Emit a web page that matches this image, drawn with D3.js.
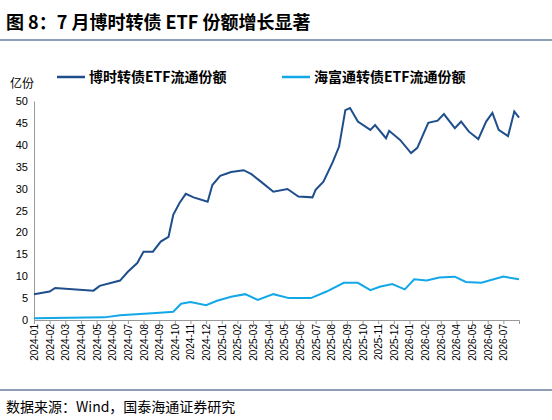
<!DOCTYPE html>
<html><head><meta charset="utf-8">
<script src="https://cdn.jsdelivr.net/npm/d3@7"></script>
<style>
body{margin:0;background:#fff;font-family:"Noto Sans CJK SC","Liberation Serif",serif;}
</style></head><body>
<svg id="chart" width="552" height="420"></svg>
<script>
// tick labels (months)
const months = [];
for (let y = 2024; y <= 2026; y++) for (let m = 1; m <= 12; m++) {
  if (y === 2026 && m > 7) break;
  months.push(y + "-" + String(m).padStart(2, "0"));
}
// month position (0 = 2024-01) and values, 博时
const boshiT = [0,1,1.35,3.8,4.2,5.5,6,6.6,7,7.6,8.1,8.6,8.9,9.3,9.7,10.2,11.1,11.4,11.9,12.6,13.4,13.9,14.5,15.3,16.2,16.9,17.8,18,18.5,19.1,19.5,19.9,20.2,20.7,21.5,21.8,22.5,22.7,23.4,24.1,24.5,25.2,25.8,26.2,26.9,27.3,27.8,28.4,28.9,29.3,29.7,30.3,30.7,31];
const boshiV = [5.9,6.5,7.3,6.7,7.8,9.0,11,13,15.6,15.6,17.9,19,24,26.7,28.8,28,27,30.8,32.9,33.8,34.2,33.3,31.6,29.3,29.9,28.2,28,29.7,31.6,36.1,39.6,47.9,48.4,45.3,43.4,44.5,41.5,43.2,41.1,38.1,39.3,45,45.5,47,43.8,45.3,43,41.3,45.3,47.3,43.4,42,47.6,46.2];
// 海富通
const hftT = [0,4.5,5.5,7.8,8.9,9.4,10,11,11.7,12.6,13.5,14.3,15.3,16.3,17.7,18.7,19.8,20.7,21.5,22.1,22.9,23.7,24.3,25.1,25.9,26.9,27.6,28.6,30,31];
const hftV = [0.4,0.6,1.1,1.6,1.9,3.7,4.1,3.4,4.4,5.3,5.9,4.6,5.9,5,5,6.5,8.5,8.5,6.8,7.6,8.2,7,9.3,9,9.7,9.9,8.7,8.5,9.9,9.3];
const yTicks = [0,5,10,15,20,25,30,35,40,45,50];

const svg = d3.select("#chart");
const x = d3.scaleLinear().domain([0, 31]).range([34, 519]);
const y = d3.scaleLinear().domain([0, 50]).range([320, 101]);

// title
svg.append("text").attr("x", 6).attr("y", 29).attr("font-size", 18).attr("font-weight", "bold")
  .text("图 8：7 月博时转债 ETF 份额增长显著");
svg.append("line").attr("x1", 0).attr("x2", 552).attr("y1", 40).attr("y2", 40).attr("stroke", "#1f3f6f").attr("stroke-width", 1.2);
svg.append("line").attr("x1", 0).attr("x2", 552).attr("y1", 390).attr("y2", 390).attr("stroke", "#1f3f6f").attr("stroke-width", 1.2);
svg.append("text").attr("x", 6).attr("y", 412).attr("font-size", 14).text("数据来源：Wind，国泰海通证券研究");

svg.append("text").attr("x", 10).attr("y", 88).attr("font-size", 12).text("亿份");

// legend
const leg = [["博时转债ETF流通份额", "#1f4e8c", 57], ["海富通转债ETF流通份额", "#12a8e8", 282]];
leg.forEach(([t, c, lx]) => {
  svg.append("line").attr("x1", lx).attr("x2", lx + 28).attr("y1", 77).attr("y2", 77).attr("stroke", c).attr("stroke-width", 2.5);
  svg.append("text").attr("x", lx + 32).attr("y", 82).attr("font-size", 14).attr("font-weight", "bold").text(t);
});

// y axis
const yAx = svg.append("g").attr("transform", "translate(34,0)")
  .call(d3.axisLeft(y).tickValues(yTicks).tickSize(0).tickPadding(6));
yAx.select(".domain").attr("stroke", "#999");
yAx.selectAll("text").attr("font-size", 11).attr("font-family", "Liberation Sans, sans-serif");

// x axis
const xAx = svg.append("g").attr("transform", "translate(0,320)")
  .call(d3.axisBottom(x).tickValues(d3.range(0, 31)).tickSize(4).tickFormat(i => months[i]));
xAx.select(".domain").attr("stroke", "#999");
xAx.selectAll("line").attr("stroke", "#999");
xAx.selectAll("text").attr("font-size", 10).attr("font-family", "Liberation Sans, sans-serif")
  .attr("transform", "rotate(-90)").attr("text-anchor", "end").attr("x", -4).attr("y", 0).attr("dy", "0.35em");

const line = d3.line().x(d => x(d[0])).y(d => y(d[1]));
svg.append("path").datum(hftT.map((t, i) => [t, hftV[i]]))
  .attr("d", line).attr("fill", "none").attr("stroke", "#12a8e8").attr("stroke-width", 2);
svg.append("path").datum(boshiT.map((t, i) => [t, boshiV[i]]))
  .attr("d", line).attr("fill", "none").attr("stroke", "#1f4e8c").attr("stroke-width", 2);
</script></body></html>
